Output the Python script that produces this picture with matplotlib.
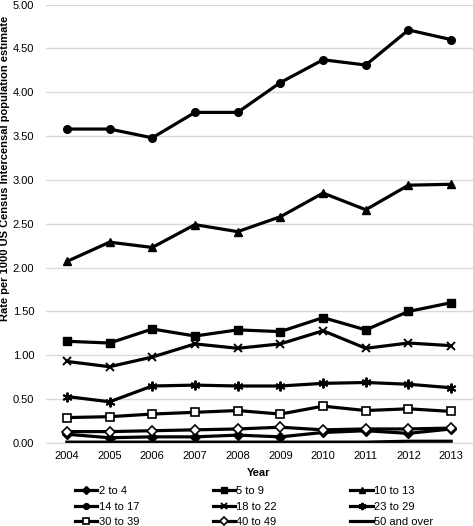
import matplotlib
matplotlib.use("Agg")
import matplotlib.pyplot as plt

plt.rcParams['font.family'] = ['Liberation Sans', 'DejaVu Sans']

years = ["2004", "2005", "2006", "2007", "2008", "2009", "2010", "2011", "2012", "2013"]

age_2_4 = [0.10, 0.06, 0.07, 0.07, 0.09, 0.07, 0.12, 0.14, 0.11, 0.16]
age_5_9 = [1.16, 1.14, 1.30, 1.22, 1.29, 1.27, 1.43, 1.29, 1.50, 1.60]
age_10_13 = [2.07, 2.29, 2.23, 2.49, 2.41, 2.58, 2.85, 2.66, 2.94, 2.95]
age_14_17 = [3.58, 3.58, 3.48, 3.77, 3.77, 4.11, 4.37, 4.31, 4.71, 4.60]
age_18_22 = [0.93, 0.87, 0.98, 1.13, 1.08, 1.13, 1.28, 1.08, 1.14, 1.11]
age_23_29 = [0.53, 0.47, 0.65, 0.66, 0.65, 0.65, 0.68, 0.69, 0.67, 0.63]
age_30_39 = [0.29, 0.30, 0.33, 0.35, 0.37, 0.33, 0.42, 0.37, 0.39, 0.36]
age_40_49 = [0.13, 0.13, 0.14, 0.15, 0.16, 0.18, 0.15, 0.16, 0.16, 0.17]
age_50_over = [0.01, 0.01, 0.01, 0.01, 0.01, 0.01, 0.01, 0.01, 0.02, 0.02]

labels = ["2 to 4", "5 to 9", "10 to 13", "14 to 17", "18 to 22",
          "23 to 29", "30 to 39", "40 to 49", "50 and over"]
series = [age_2_4, age_5_9, age_10_13, age_14_17, age_18_22,
          age_23_29, age_30_39, age_40_49, age_50_over]
styles = [
    dict(marker='D', ms=5, mfc='black'),
    dict(marker='s', ms=5.5, mfc='black'),
    dict(marker='^', ms=6, mfc='black'),
    dict(marker='o', ms=5.5, mfc='black'),
    dict(marker='x', ms=6, mew=1.4),
    dict(marker=(6, 2, 0), ms=7, mew=1.4),
    dict(marker='s', ms=5.5, mfc='white', mew=1.2),
    dict(marker='D', ms=5.5, mfc='white', mew=1.2),
    dict(marker='None'),
]

fig = plt.figure(figsize=(4.73, 5.26), dpi=100)
ax = fig.add_axes([0.0962, 0.1578, 0.9028, 0.8336])

x = list(range(len(years)))
handles = []
for lab, vals, st in zip(labels, series, styles):
    h, = ax.plot(x, vals, color='black', lw=2.3, mec='black', label=lab, **st)
    handles.append(h)

ax.set_xlim(-0.5, len(years) - 0.5)
ax.set_ylim(0, 5.0)
ax.set_yticks([i * 0.5 for i in range(11)])
ax.set_yticklabels([f"{i*0.5:.2f}" for i in range(11)])
ax.set_xticks(x)
ax.set_xticklabels(years)
ax.grid(axis='y', color='#d9d9d9', lw=1)
ax.set_axisbelow(True)
for s in ['top', 'right', 'left']:
    ax.spines[s].set_visible(False)
ax.spines['bottom'].set_color('#d9d9d9')
ax.tick_params(axis='both', length=0, labelsize=8, colors='black', pad=6)
ax.tick_params(axis='y', pad=8)
ax.set_xlabel("Year", fontsize=8, fontweight='bold', labelpad=5)
ax.set_ylabel("Rate per 1000 US Census Intercensal population estimate",
              fontsize=8, fontweight='bold')
ax.yaxis.set_label_coords(-0.082, 0.626)

ncol = 3
nrow = 3
order = [r * ncol + c for c in range(ncol) for r in range(nrow)]
fig.legend([handles[i] for i in order], [labels[i] for i in order],
           ncol=3, loc='upper left', bbox_to_anchor=(75 / 473, 1 - 486 / 526),
           frameon=False, fontsize=8, handlelength=2.0, handletextpad=0.15,
           columnspacing=6.6, labelspacing=0.5, borderpad=0, borderaxespad=0,
           markerscale=0.75)

fig.savefig("out.png", dpi=100)
